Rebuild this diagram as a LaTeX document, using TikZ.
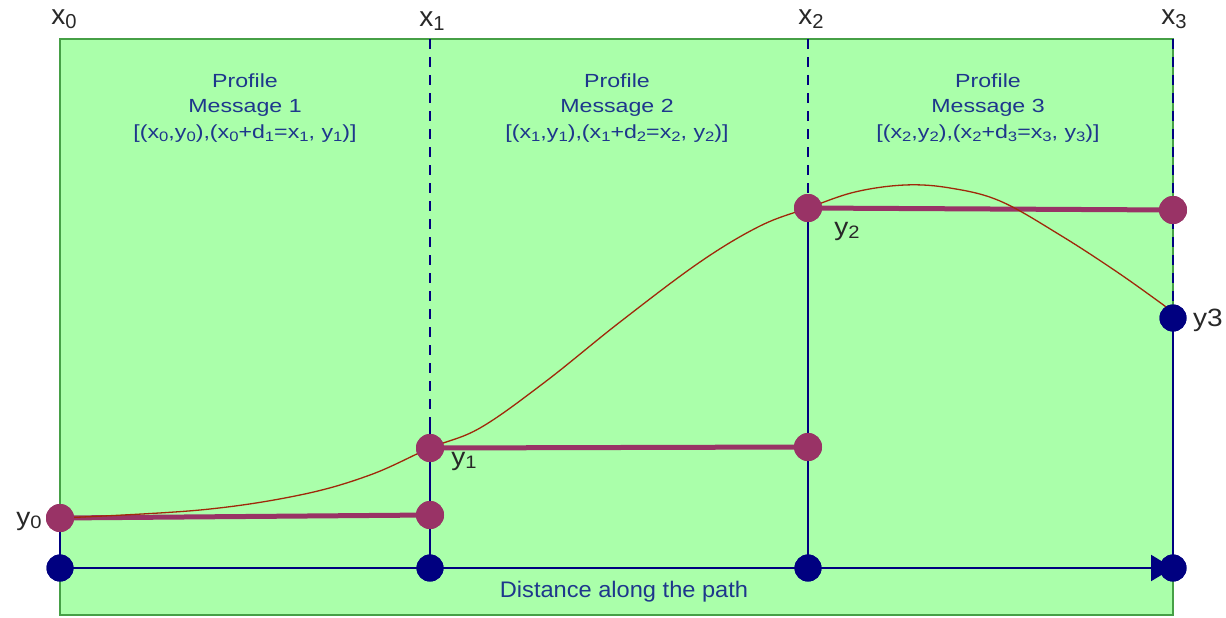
\documentclass[tikz,border=0pt]{standalone}
\usepackage{fontspec}
\usepackage{graphicx}
\setmainfont{Liberation Sans}
\usetikzlibrary{arrows.meta}
\definecolor{bgreen}{RGB}{170,255,170}
\definecolor{edgegreen}{RGB}{70,160,70}
\definecolor{navy}{RGB}{0,0,128}
\definecolor{plum}{RGB}{153,51,102}
\definecolor{brown}{RGB}{160,40,10}
\definecolor{txtblue}{RGB}{30,55,140}
\definecolor{lblgrey}{RGB}{40,40,40}
\newcommand{\sbs}[1]{\raisebox{-0.28ex}{\scalebox{0.72}{#1}}}
\tikzset{
  bdot/.style={circle,fill=navy,inner sep=0pt,minimum size=27pt},
  mdot/.style={circle,fill=plum,inner sep=0pt,minimum size=28pt},
  navyline/.style={draw=navy,line width=2.2pt},
  plumline/.style={draw=plum,line width=5pt},
  dashline/.style={draw=navy,line width=2pt,dash pattern=on 10pt off 8pt},
  xlabel/.style={text=lblgrey,font=\fontsize{28}{30}\selectfont},
  ylabel/.style={text=lblgrey,xscale=1.12,font=\fontsize{25}{27}\selectfont},
  proftext/.style={text=txtblue,align=center,xscale=1.22,font=\fontsize{19}{25.5}\selectfont},
}
\begin{document}
\begin{tikzpicture}[x=1pt,y=-1pt]
\useasboundingbox (0,0) rectangle (1226,618);
\draw[fill=bgreen,draw=edgegreen,line width=2pt] (60,39) rectangle (1173,615);
% dashed guides
\coordinate (t1) at (430,39);
\coordinate (t2) at (808,39);
\coordinate (t3) at (1173,39);
\coordinate (u1) at (430,425);
\coordinate (u2) at (808,200);
\coordinate (u3) at (1173,318);
\draw[dashline] (t1) -- (u1);
\draw[dashline] (t2) -- (u2);
\draw[dashline] (t3) -- (u3);
% dots
\node[bdot] (b0) at (60,568) {};
\node[bdot] (b1) at (430,568) {};
\node[bdot] (b2) at (808,568) {};
\node[bdot] (b3) at (1173,568) {};
\node[bdot] (y3) at (1173,318) {};
\node[mdot] (m0) at (60,518) {};
\node[mdot] (m0e) at (430,515) {};
\node[mdot] (m1) at (430,448) {};
\node[mdot] (m1e) at (808,447) {};
\node[mdot] (m2) at (808,208) {};
\node[mdot] (m2e) at (1173,210) {};
% navy lines
\draw[navyline] (m0.center) -- (b0.center);
\draw[navyline] (u1) -- (b1.center);
\draw[navyline] (m2.center) -- (b2.center);
\draw[navyline] (y3.center) -- (b3.center);
\draw[navyline,-{Triangle[length=22pt,width=26pt]}] (b0.center) -- (b3.center);
% plum segments
\draw[plumline] (m0.center) -- (m0e.center);
\draw[plumline] (m1.center) -- (m1e.center);
\draw[plumline] (m2.center) -- (m2e.center);
% profile curve
\draw[brown,line width=1.3pt] plot[smooth,tension=0.6] coordinates {
 (60,518) (200,510) (300,495) (370,475) (430,448) (480,428) (545,382)
 (620,322) (700,262) (760,226) (808,208) (855,192) (905,185) (950,188)
 (1000,201) (1060,235) (1120,274) (1173,312)};
% redraw dots on top
\node[bdot] at (b0) {};
\node[bdot] at (b1) {};
\node[bdot] at (b2) {};
\node[bdot] at (b3) {};
\node[bdot] at (y3) {};
\node[mdot] at (m0) {};
\node[mdot] at (m0e) {};
\node[mdot] at (m1) {};
\node[mdot] at (m1e) {};
\node[mdot] at (m2) {};
\node[mdot] at (m2e) {};
% labels
\node[xlabel] (lx0) at (64,19) {x\sbs{0}};
\node[xlabel] (lx1) at (432,21) {x\sbs{1}};
\node[xlabel] (lx2) at (811,19) {x\sbs{2}};
\node[xlabel] (lx3) at (1174,19) {x\sbs{3}};
\node[ylabel] (ly0) at (29,521) {y\sbs{0}};
\node[ylabel] (ly1) at (464,461) {y\sbs{1}};
\node[ylabel] (ly2) at (847,231) {y\sbs{2}};
\node[ylabel] (ly3) at (1208,320) {y3};
\node[proftext] (p1) at (245,108) {Profile\\Message 1\\{}[(x\sbs{0},y\sbs{0}),(x\sbs{0}+d\sbs{1}=x\sbs{1}, y\sbs{1})]};
\node[proftext] (p2) at (617,108) {Profile\\Message 2\\{}[(x\sbs{1},y\sbs{1}),(x\sbs{1}+d\sbs{2}=x\sbs{2}, y\sbs{2})]};
\node[proftext] (p3) at (988,108) {Profile\\Message 3\\{}[(x\sbs{2},y\sbs{2}),(x\sbs{2}+d\sbs{3}=x\sbs{3}, y\sbs{3})]};
\node[text=txtblue,xscale=1.05,font=\fontsize{22.5}{24}\selectfont] (dist) at (624,592) {Distance along the path};
\end{tikzpicture}
\end{document}
